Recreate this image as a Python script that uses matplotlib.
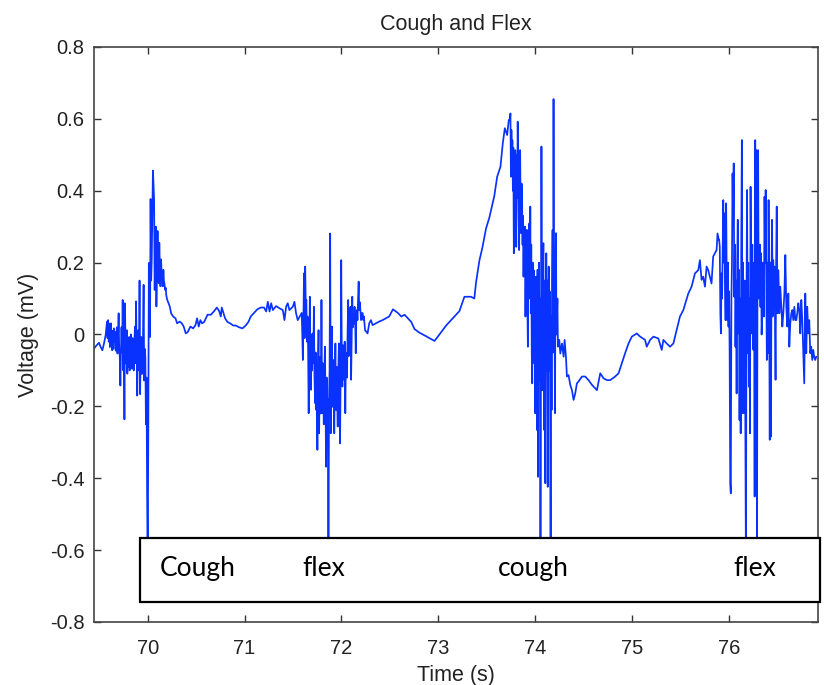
import numpy as np
import matplotlib
matplotlib.use("Agg")
import matplotlib.pyplot as plt
from matplotlib.patches import Rectangle

# Signal (time in s, voltage in mV).
# Quiet stretches are listed as (time, value); the four bursts are
# listed as samples with a fixed step.  -0.65 = hidden behind the label box.

lead_t = [69.446, 69.473, 69.497, 69.515, 69.532, 69.549, 69.566]
lead_v = [-0.039, -0.030, -0.023, -0.035, -0.044, -0.025, -0.002]

cough1_start, cough1_dt = 69.580, 0.006
cough1_v = [0.036, -0.010, 0.040, -0.020, 0.030, -0.035, 0.028, 0.031, -0.030, -0.044,
            0.010, -0.040, 0.017, -0.020, 0.007, -0.045, -0.007, 0.020, -0.053, -0.010,
            0.059, -0.040, -0.063, -0.142, -0.044, 0.020, -0.050, 0.096, -0.100, -0.020,
            -0.236, 0.087, -0.060, -0.081, 0.012, -0.109, -0.020, -0.090, -0.007, -0.100,
            -0.081, 0.000, -0.025, -0.095, -0.010, -0.044, -0.100, -0.030, 0.022, -0.080,
            0.092, -0.044, -0.170, -0.020, 0.012, -0.100, 0.150, -0.166, -0.030, -0.007,
            -0.110, -0.081, 0.000, 0.138, -0.128, -0.040, -0.063, -0.250, -0.120, -0.437,
            -0.650, -0.300, 0.199, 0.020, -0.007, 0.377, 0.150, 0.209, 0.330, 0.456,
            0.420, 0.377, 0.124, 0.209, 0.300, 0.078, 0.180, 0.288, 0.200, 0.143,
            0.255, 0.180, 0.134, 0.209, 0.170, 0.162, 0.134, 0.180, 0.148, 0.140,
            0.124, 0.130, 0.110, 0.100, 0.095]

rest1_t = [70.228, 70.242, 70.263, 70.287, 70.304, 70.331, 70.352, 70.372, 70.393, 70.414,
           70.441, 70.469, 70.493, 70.510, 70.527, 70.544, 70.561, 70.583, 70.618, 70.652,
           70.686, 70.714, 70.738, 70.755, 70.765, 70.782, 70.799, 70.823, 70.858, 70.882,
           70.909, 70.944, 70.978, 71.012, 71.040, 71.064, 71.098, 71.132, 71.167, 71.201,
           71.223, 71.240, 71.258, 71.275, 71.292, 71.326, 71.360, 71.395, 71.412, 71.429,
           71.446, 71.463, 71.498, 71.515, 71.532, 71.549]
rest1_v = [0.078, 0.059, 0.050, 0.045, 0.031, 0.036, 0.031, 0.022, 0.003, 0.007,
           0.022, 0.017, 0.026, 0.045, 0.022, 0.040, 0.031, 0.035, 0.055, 0.055,
           0.065, 0.075, 0.065, 0.050, 0.075, 0.060, 0.045, 0.035, 0.030, 0.025,
           0.025, 0.020, 0.017, 0.025, 0.035, 0.050, 0.060, 0.070, 0.075, 0.075,
           0.064, 0.091, 0.064, 0.087, 0.068, 0.079, 0.073, 0.068, 0.040, 0.077,
           0.087, 0.068, 0.077, 0.091, 0.059, 0.040]

flex1_start, flex1_dt = 71.590, 0.006
flex1_v = [0.060, 0.003, -0.071, 0.040, 0.170, -0.010, 0.189, 0.080, 0.096, -0.020,
           0.050, -0.034, -0.219, -0.060, 0.105, -0.080, -0.154, 0.000, -0.100, 0.003,
           -0.080, 0.077, -0.117, -0.191, -0.050, -0.210, -0.120, -0.321, -0.090, 0.012,
           -0.275, -0.100, -0.062, -0.220, 0.096, -0.219, -0.080, -0.145, -0.250, -0.100,
           -0.034, -0.200, -0.368, -0.120, -0.275, -0.180, -0.650, -0.182, -0.100, 0.281,
           -0.275, -0.120, 0.022, -0.201, -0.150, -0.071, -0.275, -0.130, -0.025, -0.210,
           -0.090, -0.182, -0.256, -0.100, -0.025, -0.200, -0.303, -0.110, 0.207, -0.060,
           -0.145, -0.030, -0.089, -0.126, -0.020, -0.219, -0.080, -0.052, -0.120, 0.010,
           0.096, -0.060, -0.025, 0.060, 0.077, -0.126, -0.010, 0.105, 0.020, 0.050,
           0.030, 0.077, 0.040, -0.052, 0.050, 0.068, 0.040, 0.100, 0.147, 0.068,
           0.090, 0.068, 0.040, 0.050, 0.060, 0.059, 0.040, 0.050, 0.030, 0.012]

rise_t = [72.270, 72.287, 72.305, 72.322, 72.356, 72.390, 72.425, 72.459, 72.493, 72.532,
          72.583, 72.618, 72.652, 72.686, 72.721, 72.755, 72.806, 72.875, 72.961, 73.012,
          73.081, 73.149, 73.218, 73.270, 73.338, 73.372, 73.390, 73.424, 73.458, 73.493,
          73.527, 73.578, 73.608, 73.642, 73.666, 73.687, 73.711, 73.728]
rise_v = [0.003, 0.031, 0.040, 0.026, 0.031, 0.036, 0.040, 0.045, 0.050, 0.070,
          0.060, 0.050, 0.055, 0.045, 0.035, 0.015, 0.005, -0.005, -0.018, 0.000,
          0.025, 0.045, 0.065, 0.105, 0.105, 0.100, 0.145, 0.205, 0.245, 0.295,
          0.325, 0.385, 0.439, 0.467, 0.532, 0.574, 0.555, 0.597]

cough2_start, cough2_dt = 73.740, 0.005
cough2_v = [0.600, 0.615, 0.439, 0.569, 0.480, 0.540, 0.400, 0.520, 0.226, 0.450,
            0.350, 0.513, 0.400, 0.244, 0.500, 0.380, 0.592, 0.450, 0.330, 0.235,
            0.480, 0.513, 0.350, 0.282, 0.420, 0.383, 0.250, 0.330, 0.161, 0.300,
            0.200, 0.300, 0.050, 0.220, 0.150, 0.291, 0.080, -0.034, 0.200, 0.100,
            0.309, 0.150, 0.356, 0.059, 0.250, -0.050, -0.136, 0.200, 0.050, 0.179,
            -0.080, 0.150, -0.219, 0.100, 0.161, -0.100, -0.266, 0.180, -0.396, 0.059,
            0.200, -0.127, 0.100, -0.650, -0.050, 0.523, 0.100, -0.155, 0.150, 0.254,
            -0.050, -0.266, 0.150, -0.414, 0.050, 0.226, -0.100, 0.150, -0.424, 0.000,
            0.189, -0.100, 0.120, -0.155, -0.650, 0.050, -0.210, 0.150, 0.291, -0.050,
            0.655, 0.100, 0.059, -0.219, 0.150, 0.282, 0.000, 0.040, 0.100, -0.034]

rest2_t = [74.249, 74.260, 74.277, 74.294, 74.304, 74.318, 74.328, 74.345, 74.363, 74.380,
           74.397, 74.414, 74.431, 74.448, 74.483, 74.517, 74.551, 74.586, 74.621, 74.638,
           74.672, 74.706, 74.741, 74.775, 74.826, 74.861, 74.895, 74.929, 74.964, 74.998,
           75.049, 75.084, 75.135, 75.152, 75.187, 75.221, 75.272, 75.307, 75.324, 75.358,
           75.393, 75.427, 75.461, 75.495, 75.530, 75.581, 75.615, 75.650, 75.684, 75.701,
           75.718, 75.735, 75.753, 75.770, 75.787, 75.804, 75.821, 75.838, 75.856, 75.873,
           75.883, 75.897]
rest2_v = [-0.015, -0.053, -0.025, -0.062, -0.015, -0.062, -0.117, -0.113, -0.141, -0.155,
           -0.182, -0.164, -0.136, -0.131, -0.117, -0.117, -0.127, -0.140, -0.150, -0.155,
           -0.108, -0.122, -0.127, -0.127, -0.117, -0.108, -0.080, -0.052, -0.025, -0.006,
           0.003, -0.006, -0.015, -0.034, -0.015, -0.006, -0.011, -0.043, -0.015, -0.025,
           -0.034, -0.025, 0.012, 0.050, 0.068, 0.114, 0.133, 0.170, 0.179, 0.207,
           0.152, 0.161, 0.133, 0.189, 0.179, 0.161, 0.142, 0.217, 0.226, 0.235,
           0.281, 0.263]

flex2_start, flex2_dt = 75.900, 0.006
flex2_v = [0.263, 0.244, 0.059, 0.003, 0.170, 0.100, 0.230, 0.374, 0.200, 0.337,
           0.150, 0.040, 0.365, 0.150, 0.040, 0.200, 0.022, 0.120, -0.052, -0.414,
           -0.442, 0.100, 0.200, 0.448, 0.300, 0.476, 0.105, 0.250, -0.034, 0.150,
           -0.164, 0.200, 0.319, 0.003, 0.180, -0.238, 0.100, -0.275, 0.250, 0.541,
           -0.219, 0.200, 0.050, -0.219, 0.150, -0.229, -0.650, 0.100, 0.402, -0.052,
           0.200, -0.145, 0.100, -0.275, 0.411, 0.150, 0.003, 0.250, -0.034, -0.043,
           0.200, -0.451, 0.541, 0.100, 0.513, -0.650, 0.250, 0.513, 0.100, 0.179,
           0.250, 0.077, 0.226, 0.000, 0.059, 0.200, 0.124, 0.050, 0.383, 0.200,
           0.402, 0.150, -0.071, 0.200, -0.052, 0.374, 0.100, -0.293, 0.200, -0.284,
           0.150, 0.319, 0.050, 0.207, 0.100, 0.189, 0.050, -0.126, 0.200, 0.356]

tail_t = [76.501, 76.511, 76.521, 76.531, 76.542, 76.552, 76.562, 76.573, 76.583, 76.593,
          76.603, 76.614, 76.624, 76.634, 76.645, 76.655, 76.665, 76.676, 76.686, 76.696,
          76.706, 76.717, 76.727, 76.737, 76.748, 76.758, 76.768, 76.778, 76.789, 76.799,
          76.809, 76.820, 76.830, 76.840, 76.850, 76.861, 76.871, 76.881, 76.891, 76.902]
tail_v = [0.059, 0.179, 0.059, 0.133, 0.077, 0.022, 0.059, 0.114, 0.221, 0.077,
          0.022, 0.114, -0.034, 0.031, 0.059, 0.068, 0.040, 0.077, 0.040, 0.040,
          0.059, 0.087, 0.068, 0.003, 0.096, 0.040, -0.052, -0.136, 0.114, -0.052,
          0.077, 0.003, 0.040, -0.052, -0.034, -0.071, -0.043, -0.062, -0.071, -0.062]

labels = ["Cough", "flex", "cough", "flex"]
label_times = [70.52, 71.82, 73.98, 76.27]


def sampled(start, dt, vals):
    return start + dt * np.arange(len(vals))


time = np.concatenate([lead_t, sampled(cough1_start, cough1_dt, cough1_v), rest1_t,
                       sampled(flex1_start, flex1_dt, flex1_v), rise_t,
                       sampled(cough2_start, cough2_dt, cough2_v), rest2_t,
                       sampled(flex2_start, flex2_dt, flex2_v), tail_t])
volt = np.concatenate([lead_v, cough1_v, rest1_v, flex1_v, rise_v,
                       cough2_v, rest2_v, flex2_v, tail_v])

plt.rcParams['font.family'] = ['Liberation Sans', 'DejaVu Sans']

fig = plt.figure(figsize=(8.24, 6.85), dpi=100)
ax = fig.add_axes([0.1141, 0.092, 0.8786, 0.8394])

ax.plot(time, volt, color='#0a32ff', linewidth=1.25)

ax.set_xlim(69.446, 76.92)
ax.set_ylim(-0.8, 0.8)
ax.set_xticks(range(70, 77))
ax.set_yticks(np.arange(-0.8, 0.81, 0.2))
ax.set_yticklabels(['-0.8', '-0.6', '-0.4', '-0.2', '0', '0.2', '0.4', '0.6', '0.8'])
ax.tick_params(direction='in', length=5, width=1, top=True, right=True,
               labelsize=14.5, colors='#333333', labelcolor='#222222')
ax.tick_params(axis='x', pad=12)
ax.tick_params(axis='y', pad=7)
for s in ax.spines.values():
    s.set_color('#444444')
    s.set_linewidth(1.2)

ax.set_title("Cough and Flex", fontsize=15.5, color='#222222', pad=12)
ax.set_xlabel("Time (s)", fontsize=15.5, color='#222222', labelpad=5)
ax.set_ylabel("Voltage (mV)", fontsize=15.5, color='#222222', labelpad=8)

# label box over the bottom of the plot
box = Rectangle((69.92, -0.744), 76.94 - 69.92, 0.178, facecolor='white',
                edgecolor='black', linewidth=1.6, zorder=5, clip_on=False)
ax.add_patch(box)
for txt, tx in zip(labels, label_times):
    ax.text(tx, -0.652, txt, ha='center', va='center', fontsize=19,
            family=['Lato', 'DejaVu Sans'], color='black', zorder=6)

fig.savefig("out.png", dpi=100)
